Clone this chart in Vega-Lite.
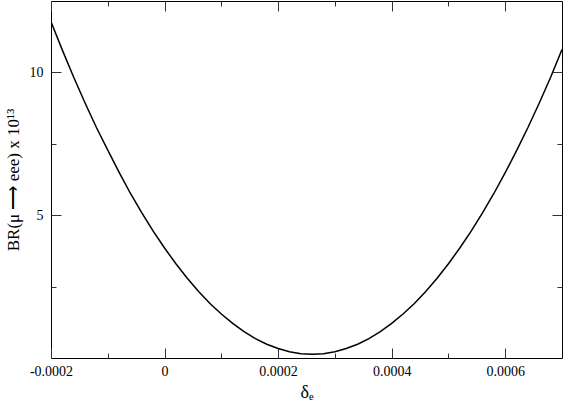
{
  "$schema": "https://vega.github.io/schema/vega-lite/v6.json",
  "autosize": {"type": "none"},
  "padding": {"left": 51, "top": 1, "right": 2, "bottom": 55},
  "width": 511,
  "height": 357,
  "background": "white",
  "config": {
    "view": {"stroke": "black", "strokeWidth": 1},
    "font": "Liberation Serif",
    "axis": {
      "domain": false,
      "grid": false,
      "labelFont": "Liberation Serif",
      "labelFontSize": 14,
      "labelColor": "black",
      "labelFlush": false,
      "titleFont": "Liberation Serif",
      "titleFontWeight": "normal",
      "titleColor": "black",
      "tickColor": "#333",
      "tickWidth": 1
    }
  },
  "data": {
    "values": [
      {"d": -0.0002, "br": 11.77},
      {"d": -0.00018, "br": 10.78},
      {"d": -0.00016, "br": 9.83},
      {"d": -0.00014, "br": 8.93},
      {"d": -0.00012, "br": 8.07},
      {"d": -0.0001, "br": 7.28},
      {"d": -0.00008, "br": 6.5},
      {"d": -0.00006, "br": 5.76},
      {"d": -0.00004, "br": 5.08},
      {"d": -0.00002, "br": 4.44},
      {"d": 0, "br": 3.85},
      {"d": 0.00002, "br": 3.3},
      {"d": 0.00004, "br": 2.79},
      {"d": 0.00006, "br": 2.33},
      {"d": 0.00008, "br": 1.91},
      {"d": 0.0001, "br": 1.54},
      {"d": 0.00012, "br": 1.21},
      {"d": 0.00014, "br": 0.92},
      {"d": 0.00016, "br": 0.68},
      {"d": 0.00018, "br": 0.48},
      {"d": 0.0002, "br": 0.33},
      {"d": 0.00022, "br": 0.22},
      {"d": 0.00024, "br": 0.15},
      {"d": 0.00026, "br": 0.13},
      {"d": 0.00028, "br": 0.15},
      {"d": 0.0003, "br": 0.22},
      {"d": 0.00032, "br": 0.33},
      {"d": 0.00034, "br": 0.48},
      {"d": 0.00036, "br": 0.68},
      {"d": 0.00038, "br": 0.92},
      {"d": 0.0004, "br": 1.21},
      {"d": 0.00042, "br": 1.54},
      {"d": 0.00044, "br": 1.91},
      {"d": 0.00046, "br": 2.33},
      {"d": 0.00048, "br": 2.79},
      {"d": 0.0005, "br": 3.3},
      {"d": 0.00052, "br": 3.85},
      {"d": 0.00054, "br": 4.44},
      {"d": 0.00056, "br": 5.08},
      {"d": 0.00058, "br": 5.76},
      {"d": 0.0006, "br": 6.49},
      {"d": 0.00062, "br": 7.26},
      {"d": 0.00064, "br": 8.07},
      {"d": 0.00066, "br": 8.93},
      {"d": 0.00068, "br": 9.83},
      {"d": 0.0007, "br": 10.8}
    ]
  },
  "resolve": {"axis": {"x": "independent", "y": "independent"}},
  "layer": [
    {
      "mark": {"type": "line", "color": "black", "strokeWidth": 1.5, "clip": true},
      "encoding": {
        "x": {"field": "d", "type": "quantitative",
          "scale": {"domain": [-0.0002, 0.0007], "nice": false, "zero": false},
          "axis": {"orient": "bottom", "values": [-0.0002, 0, 0.0002, 0.0004, 0.0006],
            "tickSize": -10, "labelPadding": 16,
            "labelExpr": "datum.value == 0 ? '0' : (datum.value < 0 ? '-' + format(-datum.value, '.4f') : format(datum.value, '.4f'))",
            "title": "δₑ", "titleFontSize": 18, "titlePadding": 5}},
        "y": {"field": "br", "type": "quantitative",
          "scale": {"domain": [0, 12.5], "nice": false, "zero": false},
          "axis": {"orient": "left", "values": [5, 10], "tickSize": -10, "labelPadding": 18,
            "title": "BR(μ ⟶ eee) x 10¹³", "titleFontSize": 17, "titlePadding": 7}}
      }
    },
    {
      "mark": {"type": "line", "strokeOpacity": 0},
      "encoding": {
        "x": {"field": "d", "type": "quantitative",
          "axis": {"orient": "bottom", "values": [-0.0001, 0.0001, 0.0003, 0.0005],
            "tickSize": -5, "labels": false, "title": null}},
        "y": {"field": "br", "type": "quantitative",
          "axis": {"orient": "left", "values": [2.5, 7.5], "tickSize": -5, "labels": false, "title": null}}
      }
    },
    {
      "mark": {"type": "line", "strokeOpacity": 0},
      "encoding": {
        "x": {"field": "d", "type": "quantitative",
          "axis": {"orient": "top", "values": [-0.0002, 0, 0.0002, 0.0004, 0.0006],
            "tickSize": -10, "labels": false, "title": null}},
        "y": {"field": "br", "type": "quantitative",
          "axis": {"orient": "right", "values": [5, 10], "tickSize": -10, "labels": false, "title": null}}
      }
    },
    {
      "mark": {"type": "line", "strokeOpacity": 0},
      "encoding": {
        "x": {"field": "d", "type": "quantitative",
          "axis": {"orient": "top", "values": [-0.0001, 0.0001, 0.0003, 0.0005],
            "tickSize": -5, "labels": false, "title": null}},
        "y": {"field": "br", "type": "quantitative",
          "axis": {"orient": "right", "values": [2.5, 7.5], "tickSize": -5, "labels": false, "title": null}}
      }
    }
  ]
}
